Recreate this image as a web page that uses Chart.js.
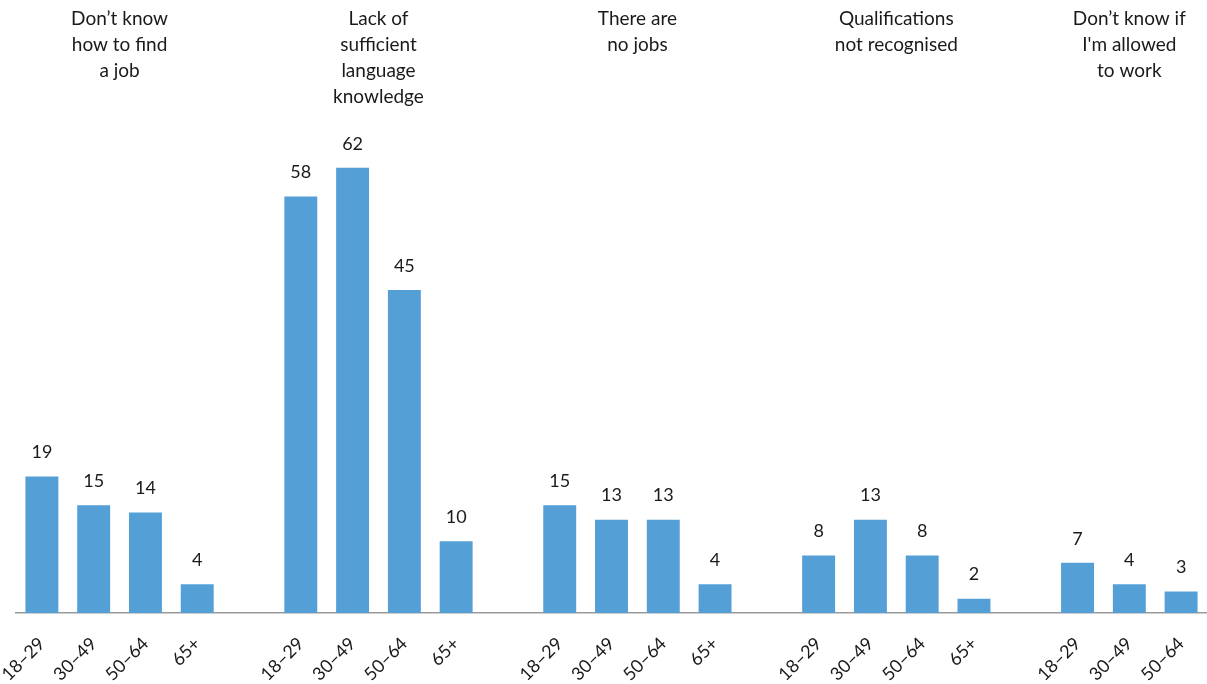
<!DOCTYPE html>
<html>
<head>
<meta charset="utf-8">
<script src="https://cdn.jsdelivr.net/npm/chart.js@4/dist/chart.umd.min.js"></script>
<style>
  html, body { margin: 0; padding: 0; background: #fff; }
  #wrap { width: 1207px; height: 684px; position: relative; }
</style>
</head>
<body>
<div id="wrap"><canvas id="chart"></canvas></div>
<script>
// =============================
// DATA
// =============================
const groupTitles = [
  ["Don’t know", "how to find", "a job"],
  ["Lack of", "sufficient", "language", "knowledge"],
  ["There are", "no jobs"],
  ["Qualifications", "not recognised"],
  ["Don’t know if", "I'm allowed", "to work"]
];

const ageBands = ["18–29", "30–49", "50–64", "65+"];
const ageBandsLast = ["18–29", "30–49", "50–64"];

const knowHow = [19, 15, 14, 4];
const language = [58, 62, 45, 10];
const noJobs = [15, 13, 13, 4];
const qualifications = [8, 13, 8, 2];
const allowed = [7, 4, 3];

// =============================
// ARMADO DE CATEGORIAS (con hueco entre grupos)
// =============================
const series = [knowHow, language, noJobs, qualifications, allowed];
const bandsPorGrupo = [ageBands, ageBands, ageBands, ageBands, ageBandsLast];

const labels = [];
const values = [];
const grupoIndices = [];

series.forEach((vals, g) => {
  if (g > 0) { labels.push(""); values.push(null); }
  const idx = [];
  vals.forEach((v, i) => {
    idx.push(labels.length);
    labels.push(bandsPorGrupo[g][i]);
    values.push(v);
  });
  grupoIndices.push(idx);
});

const FONT = "Lato, 'Noto Sans', sans-serif";
const TEXT = "#1a1a1a";

// etiquetas de valor sobre cada barra
const valueLabels = {
  id: "valueLabels",
  afterDatasetsDraw(chart) {
    const ctx = chart.ctx;
    const meta = chart.getDatasetMeta(0);
    ctx.save();
    ctx.font = "18px " + FONT;
    ctx.fillStyle = TEXT;
    ctx.textAlign = "center";
    ctx.textBaseline = "middle";
    meta.data.forEach((bar, i) => {
      const v = values[i];
      if (v === null) return;
      ctx.fillText(String(v), bar.x, bar.y - 24);
    });
    ctx.restore();
  }
};

// titulos de cada grupo arriba
const groupTitlesPlugin = {
  id: "groupTitles",
  afterDraw(chart) {
    const ctx = chart.ctx;
    const x = chart.scales.x;
    ctx.save();
    ctx.font = "19px " + FONT;
    ctx.fillStyle = TEXT;
    ctx.textAlign = "center";
    ctx.textBaseline = "middle";
    groupTitles.forEach((lines, g) => {
      const idx = grupoIndices[g];
      const cx = (x.getPixelForValue(idx[0]) + x.getPixelForValue(idx[idx.length - 1])) / 2;
      lines.forEach((line, j) => {
        ctx.fillText(line, cx, 19 + j * 26);
      });
    });
    ctx.restore();
  }
};

new Chart(document.getElementById("chart"), {
  type: "bar",
  data: {
    labels,
    datasets: [{
      data: values,
      backgroundColor: "#559FD7",
      barPercentage: 0.636,
      categoryPercentage: 1
    }]
  },
  options: {
    responsive: true,
    maintainAspectRatio: false,
    animation: false,
    layout: {
      padding: { top: 114, left: 16, right: 0, bottom: 0 }
    },
    plugins: {
      legend: { display: false },
      tooltip: { enabled: false }
    },
    scales: {
      x: {
        grid: { display: false },
        border: { display: true, color: "#9a9a9a", width: 1.5 },
        ticks: {
          autoSkip: false,
          minRotation: 45,
          maxRotation: 45,
          color: TEXT,
          padding: 12,
          font: { family: FONT, size: 18 }
        },
        afterFit(scale) {
          scale.height = 71;
          scale.paddingLeft = 0;
          scale.paddingRight = 0;
        }
      },
      y: {
        display: false,
        min: 0,
        max: 69.5
      }
    }
  },
  plugins: [valueLabels, groupTitlesPlugin]
});
</script>
</body>
</html>
